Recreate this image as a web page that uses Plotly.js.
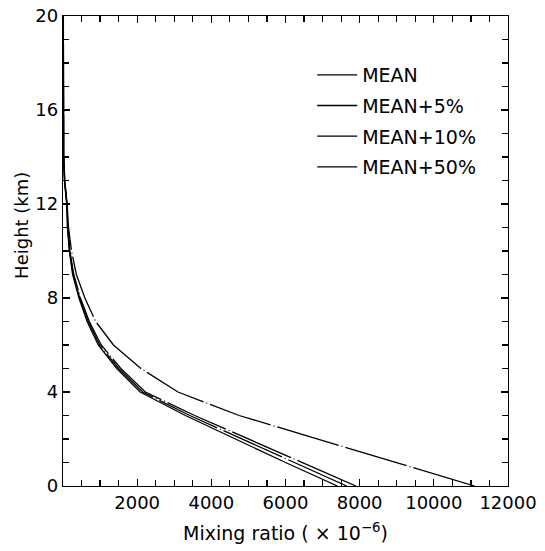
<!DOCTYPE html>
<html>
<head>
<meta charset="utf-8">
<script src="https://cdn.plot.ly/plotly-3.0.1.min.js"></script>
<style>html,body{margin:0;padding:0;background:#fff}#chart{width:545px;height:551px}</style>
</head>
<body>
<div id="chart"></div>
<script>
// Height (km)
const heights = [0, 1, 2, 3, 4, 5, 6, 7, 8, 9, 10, 11, 12, 13, 14, 16, 18, 20];
// Mixing ratio (x10^-6)
const meanVals   = [7400, 6000, 4650, 3300, 2080, 1450, 950, 650, 430, 260, 170, 120, 100, 40, 15, 10, 8, 6];
const mean5Vals  = [7650, 6230, 4830, 3420, 2150, 1500, 990, 680, 450, 275, 180, 125, 102, 42, 16, 11, 9, 7];
const mean10Vals = [7900, 6450, 5000, 3550, 2220, 1560, 1030, 710, 470, 290, 185, 130, 105, 44, 17, 12, 10, 8];
const mean50Vals = [11100, 9000, 6900, 4750, 3100, 2100, 1360, 880, 590, 360, 230, 150, 110, 50, 20, 14, 12, 10];
const seriesNames = ["MEAN", "MEAN+5%", "MEAN+10%", "MEAN+50%"];
const xTickVals = [2000, 4000, 6000, 8000, 10000, 12000];
const yTickVals = [0, 4, 8, 12, 16, 20];

const FONT = "DejaVu Sans, Liberation Sans, Arial, sans-serif";
const dashes = ["solid", "64px,3px,1px,3px", "64px,3px,1px,3px", "64px,3px,1px,3px"];
const allVals = [meanVals, mean5Vals, mean10Vals, mean50Vals];

const traces = allVals.map((vals, i) => ({
  x: vals,
  y: heights,
  type: "scatter",
  mode: "lines",
  name: seriesNames[i],
  legendgroup: "g" + i,
  line: {color: "#000", width: 1.3, dash: dashes[i]},
  hoverinfo: "x+y+name"
}));

const layout = {
  width: 545,
  height: 551,
  margin: {l: 63, r: 37, t: 16, b: 65},
  paper_bgcolor: "#fff",
  plot_bgcolor: "#fff",
  font: {family: FONT, size: 18, color: "#000"},
  showlegend: true,
  legend: {
    x: 0.56, y: 0.915, xanchor: "left", yanchor: "top",
    bgcolor: "rgba(0,0,0,0)", borderwidth: 0,
    font: {family: FONT, size: 19, color: "#000"},
    tracegroupgap: 3,
    itemwidth: 40
  },
  xaxis: {
    range: [0, 12000],
    tickmode: "array",
    tickvals: xTickVals,
    ticktext: xTickVals.map(String),
    ticks: "inside", ticklen: 7, tickwidth: 1.2, tickcolor: "#000",
    minor: {dtick: 500, ticks: "inside", ticklen: 6, tickwidth: 1.2, tickcolor: "#000"},
    showline: true, linecolor: "#000", linewidth: 1.3, mirror: "ticks",
    showgrid: false, zeroline: false,
    tickfont: {family: FONT, size: 18, color: "#000"},
    title: {text: "Mixing ratio ( \u00d7 10<sup>\u22126</sup>)", font: {family: FONT, size: 19, color: "#000"}, standoff: 14}
  },
  yaxis: {
    range: [0, 20],
    tickmode: "array",
    tickvals: yTickVals,
    ticktext: yTickVals.map(String),
    ticks: "inside", ticklen: 7, tickwidth: 1.2, tickcolor: "#000",
    minor: {dtick: 1, ticks: "inside", ticklen: 6, tickwidth: 1.2, tickcolor: "#000"},
    showline: true, linecolor: "#000", linewidth: 1.3, mirror: "ticks",
    showgrid: false, zeroline: false,
    tickfont: {family: FONT, size: 18, color: "#000"}
  },
  annotations: [{
    text: "Height (km)",
    textangle: -90,
    xref: "paper", yref: "paper",
    x: -0.095, y: 0.555,
    xanchor: "center", yanchor: "middle",
    showarrow: false,
    font: {family: FONT, size: 18, color: "#000"}
  }]
};

Plotly.newPlot("chart", traces, layout, {displayModeBar: false, staticPlot: true});
</script>
</body>
</html>
